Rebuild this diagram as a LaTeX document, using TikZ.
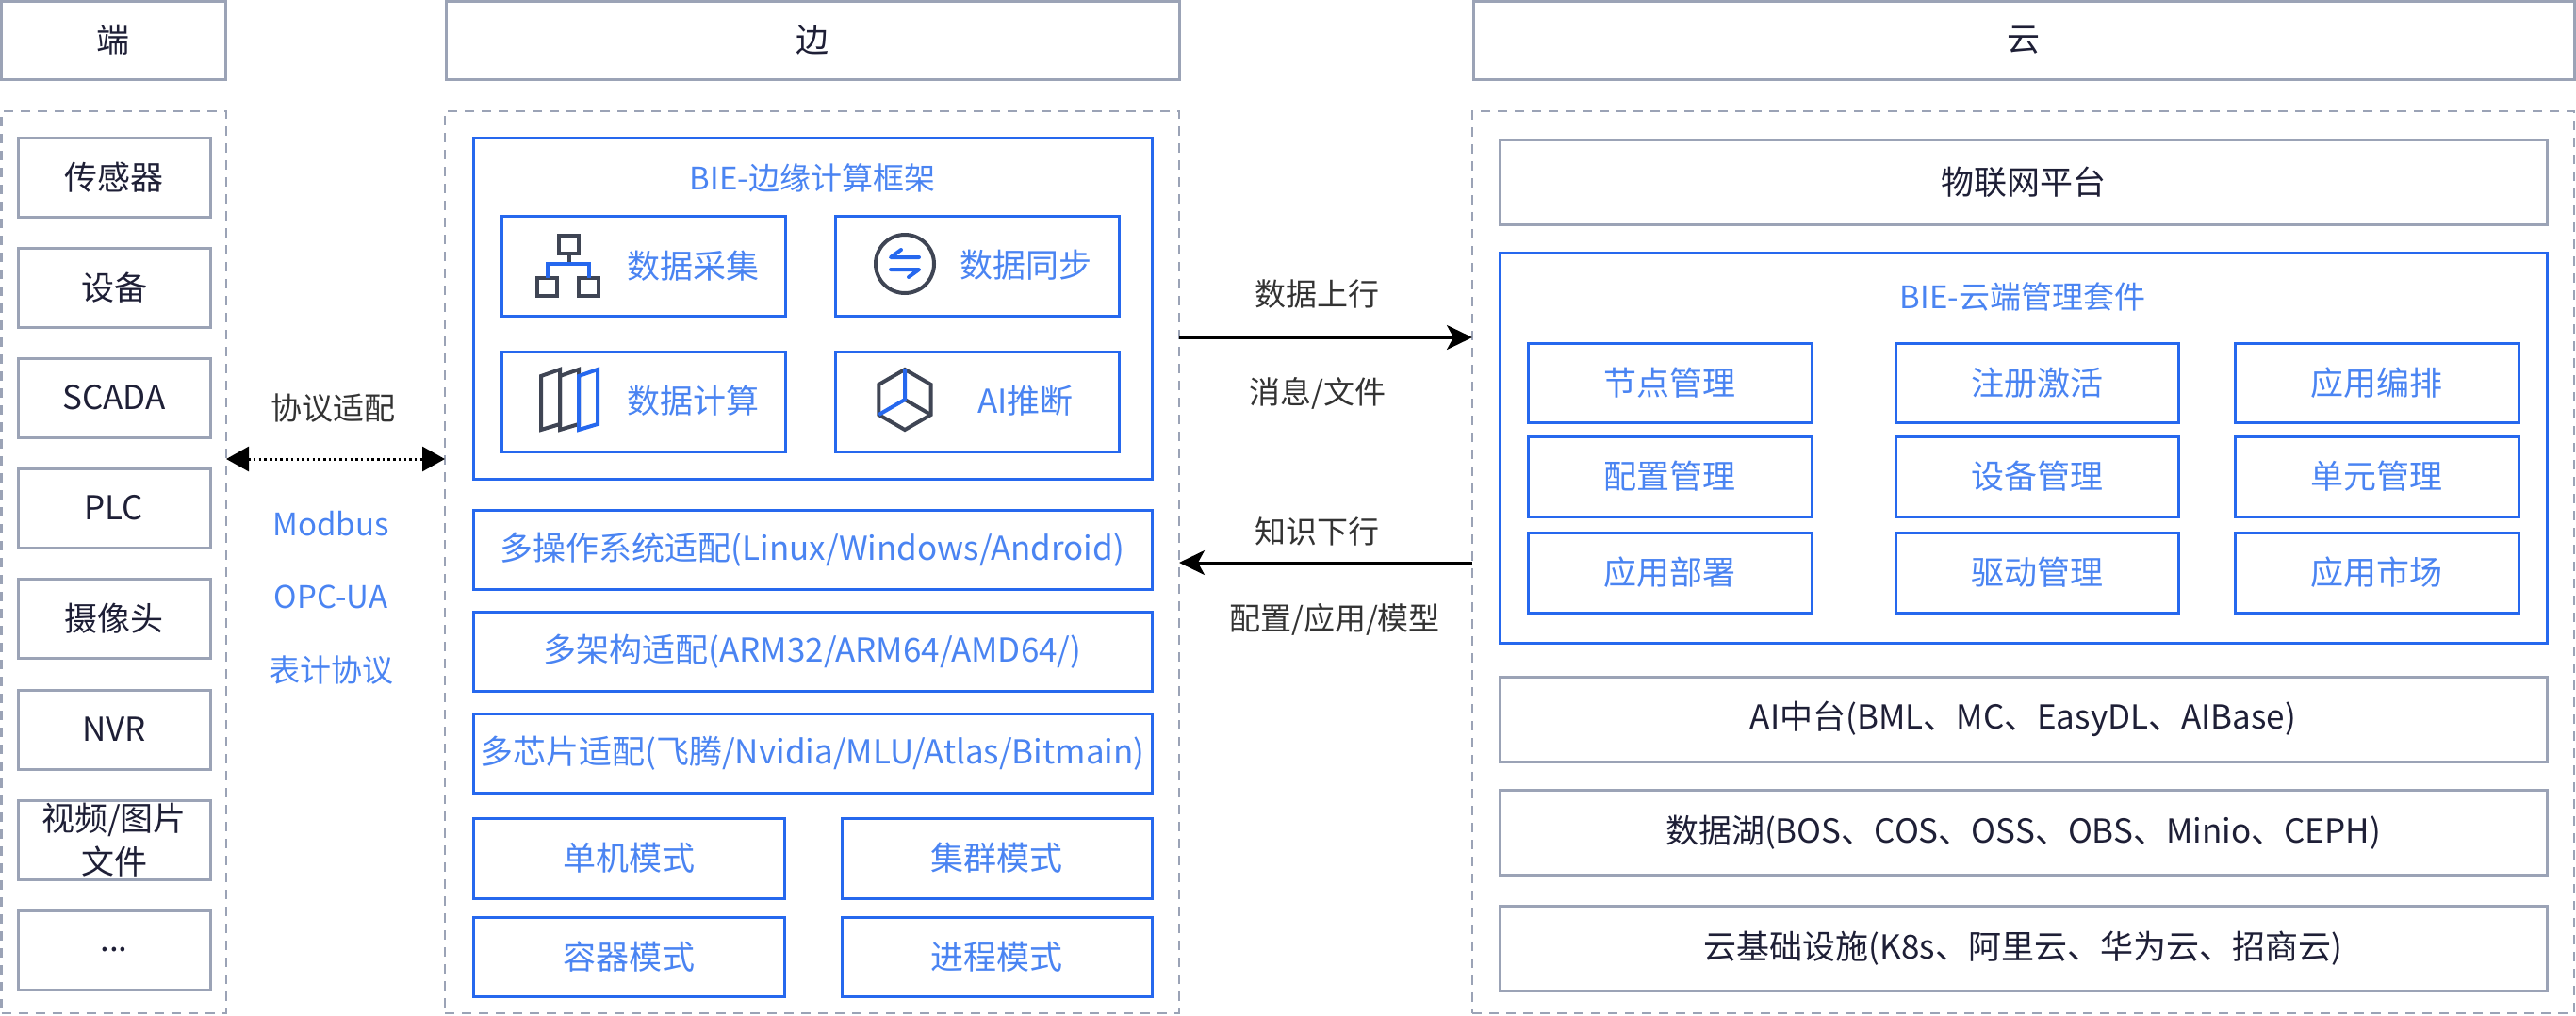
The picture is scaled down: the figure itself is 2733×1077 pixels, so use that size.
\documentclass[tikz,border=0pt]{standalone}
\usepackage{fontspec}
\setmainfont{Noto Sans CJK SC}
\usetikzlibrary{arrows.meta,calc}
\definecolor{gline}{HTML}{9BA3B6}
\definecolor{bline}{HTML}{2668EE}
\definecolor{btext}{HTML}{4A84F2}
\definecolor{dtext}{HTML}{1E1F36}
\definecolor{ltext}{HTML}{333333}
\definecolor{icon}{HTML}{3F4554}
\newcommand{\bx}[7]{\node[#2, minimum width={#5-#3}, minimum height={#6-#4}] (#1) at ({(#3+#5)/2},{(#4+#6)/2}) {#7};}
\begin{document}
\begin{tikzpicture}[x=1pt,y=-1pt,
  every node/.style={font=\fontsize{35}{46}\selectfont, inner sep=0pt, outer sep=0pt},
  gbox/.style={draw=gline, line width=3pt, text=dtext, align=center},
  bbox/.style={draw=bline, line width=3pt, text=btext, align=center},
  dbox/.style={draw=gline, line width=2.5pt, dash pattern=on 10pt off 8pt},
  lbl/.style={text=ltext, font=\fontsize{33}{40}\selectfont},
  blbl/.style={text=btext, font=\fontsize{33}{40}\selectfont},
  btitle/.style={text=btext, font=\fontsize{33}{40}\selectfont},
  ic/.style={draw=icon, line width=4pt},
  icb/.style={draw=bline, line width=4pt},
  flow/.style={line width=3pt, -{Stealth[length=27pt,width=26pt,inset=7pt]}},
  proto/.style={line width=3pt, dash pattern=on 2.5pt off 3.2pt, {Triangle[length=24pt,width=26pt]}-{Triangle[length=24pt,width=26pt]}}
]
\useasboundingbox (0,0) rectangle (2733,1077);

% headers
\bx{h1}{gbox}{1.5}{1.5}{239}{84}{端}
\bx{h2}{gbox}{473.5}{1.5}{1251}{84}{边}
\bx{h3}{gbox}{1563}{1.5}{2731.5}{84}{云}

% dashed containers
\bx{c1}{dbox}{1.5}{118}{240}{1075}{}
\bx{c2}{dbox}{472}{118}{1251}{1075}{}
\bx{c3}{dbox}{1562}{118}{2731}{1075}{}

% end devices
\bx{d1}{gbox}{19}{146}{223}{230}{传感器}
\bx{d2}{gbox}{19}{263}{223}{347}{设备}
\bx{d3}{gbox}{19}{380}{223}{464}{SCADA}
\bx{d4}{gbox}{19}{497}{223}{581}{PLC}
\bx{d5}{gbox}{19}{614}{223}{698}{摄像头}
\bx{d6}{gbox}{19}{732}{223}{816}{NVR}
\bx{d7}{gbox}{19}{849}{223}{933}{视频/图片\\文件}
\bx{d8}{gbox}{19}{966}{223}{1050}{...}

% protocol adaptation
\node[lbl] (pa) at (353,433) {协议适配};
\coordinate (py) at (0,487);
\draw[proto] (c1.east |- py) -- (c2.west |- py);
\node[blbl] (p1) at (351,556) {Modbus};
\node[blbl] (p2) at (351,633) {OPC-UA};
\node[blbl] (p3) at (351,711) {表计协议};

% edge framework
\bx{bie}{bbox}{502}{146}{1222}{508}{}
\node[btitle] (biet) at (862,189) {BIE-边缘计算框架};
\bx{f1}{bbox}{532}{229}{833}{335}{}
\bx{f2}{bbox}{886}{229}{1187}{335}{}
\bx{f3}{bbox}{532}{373}{833}{479}{}
\bx{f4}{bbox}{886}{373}{1187}{479}{}
\node[text=btext] (f1t) at (735,282) {数据采集};
\node[text=btext] (f2t) at (1088,281) {数据同步};
\node[text=btext] (f3t) at (735,425) {数据计算};
\node[text=btext] (f4t) at (1088,425) {AI推断};

% icon: collection tree
\draw[ic] (593,250) rectangle (614,269);
\draw[ic] (570,295) rectangle (591,314);
\draw[ic] (614,295) rectangle (635,314);
\draw[ic] (603.5,269) -- (603.5,280);
\draw[icb] (580.5,295) -- (580.5,280) -- (624.5,280) -- (624.5,295);
% icon: sync
\draw[ic] (960,280) circle (31);
\draw[icb, line cap=round, line join=round] (975,273) -- (945,273) -- (956,265);
\draw[icb, line cap=round, line join=round] (945,286) -- (975,286) -- (964,294);
% icon: compute panels
\foreach \x/\s in {574/ic,594/ic,614/icb}
  \draw[\s, line join=miter] (\x,399) -- (\x+20,392) -- (\x+20,450) -- (\x,456) -- cycle;
% icon: AI cube
\draw[ic, line join=miter] (960,392) -- (987.7,408) -- (987.7,440) -- (960,456) -- (932.3,440) -- (932.3,408) -- cycle;
\draw[ic] (960,424) -- (987.7,440);
\draw[icb] (960,392) -- (960,424) -- (932.3,440);

% adaptation rows
\bx{a1}{bbox}{502}{541}{1222}{625}{多操作系统适配(Linux/Windows/Android)}
\bx{a2}{bbox}{502}{649}{1222}{733}{多架构适配(ARM32/ARM64/AMD64/)}
\bx{a3}{bbox}{502}{757}{1222}{841}{多芯片适配(飞腾/Nvidia/MLU/Atlas/Bitmain)}
\bx{m1}{bbox}{502}{868}{832}{953}{单机模式}
\bx{m2}{bbox}{893}{868}{1222}{953}{集群模式}
\bx{m3}{bbox}{502}{973}{832}{1057}{容器模式}
\bx{m4}{bbox}{893}{973}{1222}{1057}{进程模式}

% arrows between edge and cloud
\coordinate (uy) at (0,358);
\coordinate (dy) at (0,597);
\draw[flow] (c2.east |- uy) -- (c3.west |- uy);
\draw[flow] (c3.west |- dy) -- (c2.east |- dy);
\node[lbl] (up1) at (1397,312) {数据上行};
\node[lbl] (up2) at (1398,417) {消息/文件};
\node[lbl] (dn1) at (1397,564) {知识下行};
\node[lbl] (dn2) at (1416,657) {配置/应用/模型};

% cloud
\bx{iot}{gbox}{1591}{148}{2702}{238}{物联网平台}
\bx{cm}{bbox}{1591}{268}{2702}{682}{}
\node[btitle] (cmt) at (2146,315) {BIE-云端管理套件};
\bx{k1}{bbox}{1621}{364}{1922}{448}{节点管理}
\bx{k2}{bbox}{2011}{364}{2311}{448}{注册激活}
\bx{k3}{bbox}{2371}{364}{2672}{448}{应用编排}
\bx{k4}{bbox}{1621}{463}{1922}{548}{配置管理}
\bx{k5}{bbox}{2011}{463}{2311}{548}{设备管理}
\bx{k6}{bbox}{2371}{463}{2672}{548}{单元管理}
\bx{k7}{bbox}{1621}{565}{1922}{650}{应用部署}
\bx{k8}{bbox}{2011}{565}{2311}{650}{驱动管理}
\bx{k9}{bbox}{2371}{565}{2672}{650}{应用市场}
\bx{ai}{gbox}{1591}{718}{2702}{808}{AI中台(BML、MC、EasyDL、AIBase)}
\bx{lake}{gbox}{1591}{838}{2702}{928}{数据湖(BOS、COS、OSS、OBS、Minio、CEPH)}
\bx{infra}{gbox}{1591}{961}{2702}{1051}{云基础设施(K8s、阿里云、华为云、招商云)}
\end{tikzpicture}
\end{document}
